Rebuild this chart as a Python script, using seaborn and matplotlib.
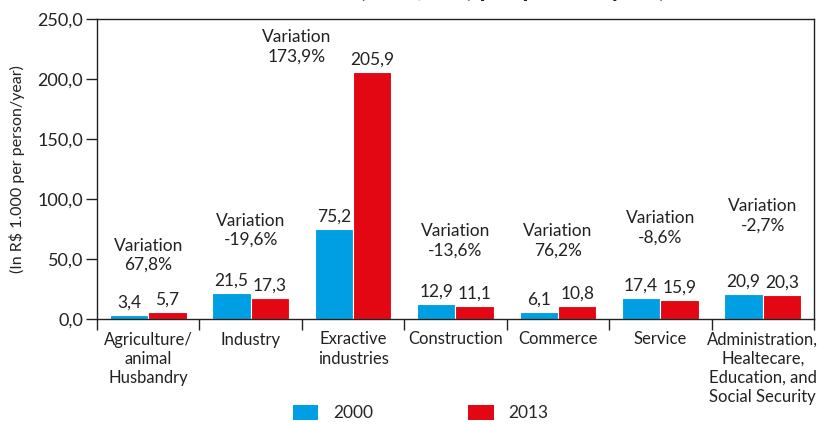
import matplotlib
matplotlib.use("Agg")
import matplotlib.pyplot as plt
import seaborn as sns
import pandas as pd
from matplotlib.patches import Patch

categories = ["Agriculture/\nanimal\nHusbandry", "Industry", "Exractive\nindustries",
              "Construction", "Commerce", "Service",
              "Administration,\nHealtecare,\nEducation, and\nSocial Security"]
values_2000 = [3.4, 21.5, 75.2, 12.9, 6.1, 17.4, 20.9]
values_2013 = [5.7, 17.3, 205.9, 11.1, 10.8, 15.9, 20.3]
variation = [67.8, -19.6, 173.9, -13.6, 76.2, -8.6, -2.7]
years = ["2000", "2013"]
yticks = [0, 50, 100, 150, 200, 250]

# layout only: centre of each "Variation" label (data units)
var_label_y = [53, 74, 227, 65, 65, 76, 86]
var_label_dx = [0, 0, -0.55, 0, 0, 0, 0]

colors = {"2000": "#009FE3", "2013": "#E30613"}

df = pd.DataFrame({
    "cat": categories * 2,
    "year": ["2000"] * len(categories) + ["2013"] * len(categories),
    "value": values_2000 + values_2013,
})

sns.set_theme(style="white")
plt.rcParams["font.family"] = ["Lato", "DejaVu Sans"]

fig = plt.figure(figsize=(8.17, 4.24), dpi=100)
ax = fig.add_axes([97 / 817, 1 - 319 / 424, (814 - 97) / 817, (319 - 19) / 424])

sns.barplot(data=df, x="cat", y="value", hue="year", palette=colors, saturation=1,
            width=0.75, edgecolor="white", linewidth=0.8, ax=ax, legend=False,
            order=categories, hue_order=years)

fmt = lambda v: f"{v:.1f}".replace(".", ",")
for cont in ax.containers:
    ax.bar_label(cont, labels=[fmt(v) for v in cont.datavalues], padding=3,
                 fontsize=12.5, color="#222222")

for i, (v, yy, dx) in enumerate(zip(variation, var_label_y, var_label_dx)):
    ax.text(i + dx, yy, "Variation\n" + f"{v:.1f}".replace(".", ",") + "%",
            ha="center", va="center", fontsize=12.5, color="#222222", linespacing=1.25)

ax.set_ylim(0, 250)
ax.set_xlim(-0.5, len(categories) - 0.5)
ax.set_yticks(yticks)
ax.set_yticklabels([fmt(t) for t in yticks], fontsize=13, color="#222222")
ax.set_xticks([i - 0.5 for i in range(len(categories) + 1)])
ax.set_xticklabels([])
ax.set_xticks(range(len(categories)), minor=True)
ax.set_xticklabels(categories, minor=True, fontsize=12, color="#222222", linespacing=1.25)
ax.tick_params(axis="x", which="major", direction="out", length=8, width=1, color="#222222", bottom=True)
ax.tick_params(axis="x", which="minor", length=0, pad=9)
ax.tick_params(axis="y", direction="out", length=8, width=1, color="#222222", left=True, pad=2)
ax.set_xlabel("")
ax.set_ylabel("(In R$ 1.000 per person/year)", fontsize=11.5, color="#222222", labelpad=9)
for s in ax.spines.values():
    s.set_visible(True)
    s.set_color("#222222")
    s.set_linewidth(1.0)

handles = [Patch(facecolor=colors[y], edgecolor="none") for y in years]
fig.legend(handles, years, loc="center", bbox_to_anchor=(0.515, 0.026), ncol=2,
           frameon=False, fontsize=12.5, columnspacing=5.5, handlelength=1.45,
           handleheight=0.95, handletextpad=0.85)

fig.text(0.627, 1 + 3 / 424, "(R$ 1,000) per person/year)", ha="center", va="baseline",
         fontsize=18, fontweight="bold", color="#222222")

fig.savefig("out.png", dpi=100)
